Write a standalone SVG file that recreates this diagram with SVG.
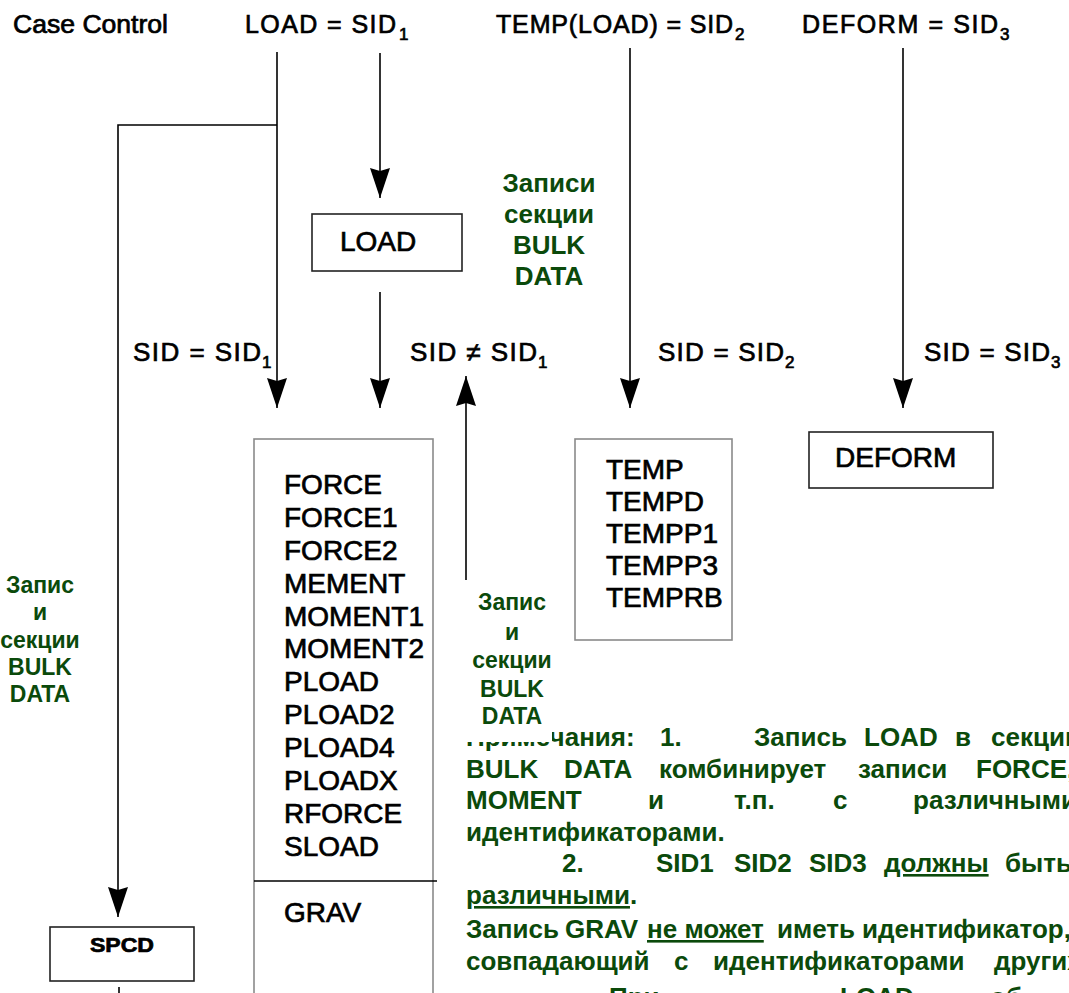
<svg xmlns="http://www.w3.org/2000/svg" width="1069" height="993" viewBox="0 0 1069 993">
<style>
text{font-family:"Liberation Sans",Arial,sans-serif}
.blk{fill:#000;stroke:#000;stroke-width:0.7}
.t25{font-size:25px}
.t26{font-size:26px}
.t28{font-size:28px}
.sub{font-size:17px}
.grn{fill:#0b4a0b;font-weight:bold;text-anchor:middle}
.note{fill:#0b4a0b;font-weight:bold;font-size:26px}
.u{text-decoration:underline}
.conn{stroke:#000;stroke-width:1.6;fill:none}
.box{fill:#fff;stroke:#222;stroke-width:1.6}
.gbox{fill:#fff;stroke:#8a8a8a;stroke-width:1.6}
</style>
<defs>
<marker id="ah" viewBox="0 0 30 20" refX="30" refY="10" markerWidth="30" markerHeight="20" markerUnits="userSpaceOnUse" orient="auto">
<path d="M0,0 L30,10 L0,20 L3,10 Z" fill="#000"/>
</marker>
</defs>
<rect width="1069" height="993" fill="#fff"/>

<g id="header">
<text class="blk t25" x="13" y="33" textLength="155" lengthAdjust="spacingAndGlyphs">Case Control</text>
<text class="blk t25" x="245" y="33" textLength="151" lengthAdjust="spacing">LOAD = SID</text>
<text class="blk sub" x="399" y="40">1</text>
<text class="blk t25" x="496" y="33" textLength="237" lengthAdjust="spacing">TEMP(LOAD) = SID</text>
<text class="blk sub" x="735" y="40">2</text>
<text class="blk t25" x="802" y="33" textLength="196" lengthAdjust="spacing">DEFORM = SID</text>
<text class="blk sub" x="1000" y="40">3</text>
</g>

<g id="connectors">
<path class="conn" d="M277,52 V408" marker-end="url(#ah)"/>
<path class="conn" d="M277,125 H118 V917" marker-end="url(#ah)"/>
<path class="conn" d="M380,53 V198" marker-end="url(#ah)"/>
<path class="conn" d="M380,292 V408" marker-end="url(#ah)"/>
<path class="conn" d="M466,580 V376" marker-end="url(#ah)"/>
<path class="conn" d="M630,48 V408" marker-end="url(#ah)"/>
<path class="conn" d="M903,48 V408" marker-end="url(#ah)"/>
<path class="conn" d="M119,987 V993"/>
</g>

<g id="edge-labels">
<text class="blk t26" x="133" y="361" textLength="128" lengthAdjust="spacing">SID = SID</text>
<text class="blk sub" x="262" y="368">1</text>
<text class="blk t26" x="410" y="361" textLength="127" lengthAdjust="spacing">SID ≠ SID</text>
<text class="blk sub" x="538" y="368">1</text>
<text class="blk t26" x="658" y="361" textLength="126" lengthAdjust="spacing">SID = SID</text>
<text class="blk sub" x="785" y="368">2</text>
<text class="blk t26" x="924" y="361" textLength="126" lengthAdjust="spacing">SID = SID</text>
<text class="blk sub" x="1051" y="368">3</text>
</g>

<g id="node-load">
<rect class="box" x="312" y="214" width="150" height="57"/>
<text class="blk t28" x="340" y="251">LOAD</text>
</g>

<g id="label-bulk-top">
<text class="grn" font-size="26" x="549" y="192">Записи</text>
<text class="grn" font-size="26" x="549" y="223">секции</text>
<text class="grn" font-size="26" x="549" y="254">BULK</text>
<text class="grn" font-size="26" x="549" y="285">DATA</text>
</g>

<g id="node-loads-list">
<rect class="gbox" x="254" y="439" width="179" height="570"/>
<line x1="254" y1="881" x2="437" y2="881" stroke="#000" stroke-width="1.6"/>
<text class="blk t28" x="284" y="494">FORCE</text>
<text class="blk t28" x="284" y="527">FORCE1</text>
<text class="blk t28" x="284" y="560">FORCE2</text>
<text class="blk t28" x="284" y="593">MEMENT</text>
<text class="blk t28" x="284" y="626">MOMENT1</text>
<text class="blk t28" x="284" y="658">MOMENT2</text>
<text class="blk t28" x="284" y="691">PLOAD</text>
<text class="blk t28" x="284" y="724">PLOAD2</text>
<text class="blk t28" x="284" y="757">PLOAD4</text>
<text class="blk t28" x="284" y="790">PLOADX</text>
<text class="blk t28" x="284" y="823">RFORCE</text>
<text class="blk t28" x="284" y="856">SLOAD</text>
<text class="blk t28" x="284" y="922">GRAV</text>
</g>

<g id="node-temp-list">
<rect class="gbox" x="575" y="439" width="157" height="201"/>
<text class="blk t28" x="606" y="479">TEMP</text>
<text class="blk t28" x="606" y="511">TEMPD</text>
<text class="blk t28" x="606" y="543">TEMPP1</text>
<text class="blk t28" x="606" y="575">TEMPP3</text>
<text class="blk t28" x="606" y="607">TEMPRB</text>
</g>

<g id="node-deform">
<rect class="box" x="809" y="432" width="184" height="56"/>
<text class="blk t28" x="835" y="467">DEFORM</text>
</g>

<g id="node-spcd">
<rect class="box" x="50" y="927" width="144" height="54"/>
<text class="blk" font-size="20" font-weight="bold" x="90" y="952" textLength="64" lengthAdjust="spacingAndGlyphs">SPCD</text>
</g>

<g id="label-bulk-left">
<text class="grn" font-size="23" x="40" y="593">Запис</text>
<text class="grn" font-size="23" x="40" y="620">и</text>
<text class="grn" font-size="23" x="40" y="648">секции</text>
<text class="grn" font-size="23" x="40" y="675">BULK</text>
<text class="grn" font-size="23" x="40" y="702">DATA</text>
</g>

<g id="notes">
<text class="note" y="746"><tspan x="466">Примечания:</tspan><tspan x="660">1.</tspan><tspan x="754">Запись</tspan><tspan x="864">LOAD</tspan><tspan x="955">в</tspan><tspan x="991">секции</tspan></text>
<text class="note" y="778"><tspan x="466">BULK</tspan><tspan x="564">DATA</tspan><tspan x="659">комбинирует</tspan><tspan x="858">записи</tspan><tspan x="976">FORCE,</tspan></text>
<text class="note" y="809"><tspan x="466">MOMENT</tspan><tspan x="648">и</tspan><tspan x="734">т.п.</tspan><tspan x="833">с</tspan><tspan x="913">различными</tspan></text>
<text class="note" x="466" y="841">идентификаторами.</text>
<text class="note" y="872"><tspan x="562">2.</tspan><tspan x="656">SID1</tspan><tspan x="734">SID2</tspan><tspan x="809">SID3</tspan><tspan x="884" class="u">должны</tspan><tspan x="1005">быть</tspan></text>
<text class="note" x="466" y="904"><tspan class="u">различными</tspan>.</text>
<text class="note" y="938"><tspan x="466">Запись</tspan><tspan x="565">GRAV</tspan><tspan x="647" class="u">не может</tspan><tspan x="777">иметь</tspan><tspan x="862">идентификатор,</tspan></text>
<text class="note" y="970"><tspan x="466">совпадающий</tspan><tspan x="674">с</tspan><tspan x="713">идентификаторами</tspan><tspan x="994">других</tspan></text>
<text class="note" y="1006"><tspan x="609">При</tspan><tspan x="840">LOAD</tspan><tspan x="990">об</tspan></text>
</g>

<g id="label-bulk-mid">
<rect x="438" y="580" width="114" height="162" fill="#fff"/>
<text class="grn" font-size="23" x="512" y="610">Запис</text>
<text class="grn" font-size="23" x="512" y="640">и</text>
<text class="grn" font-size="23" x="512" y="668">секции</text>
<text class="grn" font-size="23" x="512" y="697">BULK</text>
<text class="grn" font-size="23" x="512" y="724">DATA</text>
</g>
</svg>
